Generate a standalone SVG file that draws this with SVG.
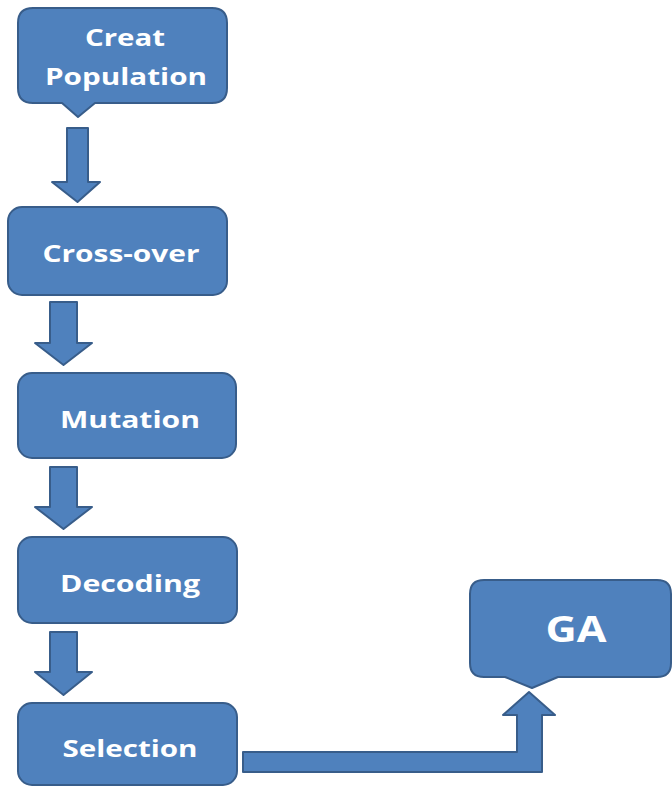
<svg xmlns="http://www.w3.org/2000/svg" width="672" height="789" viewBox="0 0 672 789">
<defs>
<style>
.shape{fill:#4F81BD;stroke:#385D8A;stroke-width:2;stroke-linejoin:round}
.lbl{font-family:"Open Sans","Liberation Sans",sans-serif;font-weight:bold;font-size:24px;fill:#ffffff;text-anchor:middle}
</style>
</defs>
<rect width="672" height="789" fill="#ffffff"/>
<g id="connectors">
<polygon class="shape" points="67,128 88,128 88,182 100,182 77.5,202 52,182 67,182"/>
<polygon class="shape" points="50,302 77,302 77,343 92,343 63.5,365 35,343 50,343"/>
<polygon class="shape" points="50,467 77,467 77,507 92,507 63.5,529 35,507 50,507"/>
<polygon class="shape" points="50,632 77,632 77,672 92,672 63.5,695 35,672 50,672"/>
<polygon class="shape" points="243,752 517,752 517,715 503,715 529,692 555,715 542,715 542,772 243,772"/>
</g>
<g id="creat-population">
<path class="shape" d="M33,8 H212 Q227,8 227,23 V88 Q227,103 212,103 H95 L78,117 L62,103 H33 Q18,103 18,88 V23 Q18,8 33,8 Z"/>
<text class="lbl" x="125" y="46" textLength="80" lengthAdjust="spacingAndGlyphs">Creat</text>
<text class="lbl" x="126" y="85" textLength="162" lengthAdjust="spacingAndGlyphs">Population</text>
</g>
<g id="cross-over">
<rect class="shape" x="8" y="207" width="219" height="88" rx="14"/>
<text class="lbl" x="121" y="262" textLength="157" lengthAdjust="spacingAndGlyphs">Cross-over</text>
</g>
<g id="mutation">
<rect class="shape" x="18" y="373" width="218" height="85" rx="14"/>
<text class="lbl" x="130" y="428" textLength="140" lengthAdjust="spacingAndGlyphs">Mutation</text>
</g>
<g id="decoding">
<rect class="shape" x="18" y="537" width="219" height="86" rx="14"/>
<text class="lbl" x="130" y="592" textLength="140" lengthAdjust="spacingAndGlyphs">Decoding</text>
</g>
<g id="selection">
<rect class="shape" x="18" y="703" width="219" height="82" rx="14"/>
<text class="lbl" x="130" y="757" textLength="135" lengthAdjust="spacingAndGlyphs">Selection</text>
</g>
<g id="ga">
<path class="shape" d="M484,580 H657 Q671,580 671,594 V663 Q671,677 657,677 H558 L532,688 L505,677 H484 Q470,677 470,663 V594 Q470,580 484,580 Z"/>
<text class="lbl" x="576" y="642" style="font-size:35px" textLength="61" lengthAdjust="spacingAndGlyphs">GA</text>
</g>
</svg>
